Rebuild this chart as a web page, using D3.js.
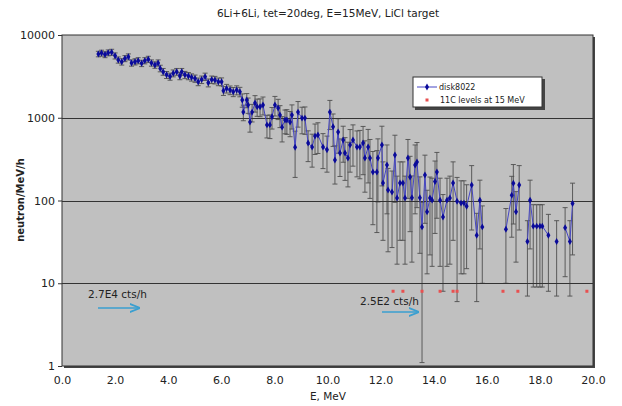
<!DOCTYPE html>
<html><head><meta charset="utf-8">
<script src="https://cdn.jsdelivr.net/npm/d3@7"></script>
<style>body{margin:0;background:#fff}svg{display:block}text{font-family:"DejaVu Sans",sans-serif;fill:#222}</style>
</head><body><svg id="c" width="622" height="406"></svg>
<script>
const energies=[1.37,1.49,1.62,1.74,1.87,2.00,2.12,2.25,2.37,2.50,2.62,2.75,2.87,3.00,3.12,3.25,3.37,3.50,3.62,3.70,3.81,3.94,4.07,4.19,4.32,4.44,4.51,4.63,4.76,4.88,5.01,5.13,5.26,5.39,5.51,5.64,5.76,5.89,6.01,6.08,6.20,6.33,6.45,6.58,6.70,6.79,6.83,6.96,7.01,7.08,7.16,7.27,7.35,7.46,7.57,7.72,7.83,7.91,8.02,8.14,8.21,8.29,8.40,8.47,8.59,8.66,8.78,8.89,9.04,9.15,9.27,9.42,9.53,9.64,9.83,9.98,10.09,10.21,10.28,10.40,10.47,10.59,10.66,10.77,10.85,10.96,11.11,11.22,11.34,11.41,11.53,11.60,11.71,11.86,11.90,12.05,12.09,12.24,12.28,12.43,12.54,12.62,12.73,12.84,12.92,13.03,13.11,13.18,13.30,13.37,13.48,13.56,13.67,13.75,13.86,13.94,14.05,14.12,14.24,14.35,14.50,14.61,14.73,14.88,15.03,15.14,15.24,15.43,15.62,15.74,15.83,16.72,16.94,17.00,17.10,17.22,17.53,17.63,17.75,17.88,18.00,18.09,18.32,18.63,18.95,19.13,19.23];
const counts=[5900,6050,5800,6100,6200,5600,5000,4750,5200,5450,4600,4750,4900,4550,4900,5100,4600,4350,4600,3950,3600,3300,3150,3450,3600,3200,3600,3300,3200,3080,2980,2730,2890,3140,2650,2890,2860,2730,2730,2120,2260,2160,2060,2160,2060,1640,1170,1640,1430,890,1170,1510,1360,1360,1430,820,820,1030,1430,1310,1080,770,940,940,890,1080,440,1170,990,990,495,443,600,620,443,410,1170,780,308,673,375,540,375,326,470,540,443,443,495,326,443,326,221,221,326,470,163,269,134,127,355,107,163,163,107,326,192,108,269,292,108,48,203,73,107,101,170,221,101,63,101,107,163,98,93,93,85,154,38,101,48,45,116,162,73,154,32,101,49,49,49,49,38,32,47,32,92];
const errors=[450,500,480,500,520,470,430,420,440,460,400,410,420,400,420,430,400,390,400,360,340,320,310,330,340,320,340,330,320,310,300,290,300,320,290,300,300,290,300,260,270,260,260,270,270,300,250,320,300,220,280,340,320,330,350,250,260,300,380,360,320,260,300,310,300,350,250,400,350,360,200,190,240,250,200,190,450,330,150,300,180,250,200,180,250,280,250,260,290,200,280,220,170,180,230,320,130,200,110,100,260,90,130,130,90,220,150,90,200,210,85,46.9,150,60,85,85,130,160,85,55,85,90,130,92,80,80,70,110,32,75,38,35,80,110,55,110,25,75,40,40,40,40,30,25,35,25,70];
const levelEnergies=[12.47,12.84,13.56,14.24,14.73,14.88,16.61,17.17,19.77];
const levelValue=8;
const xTicks=[0,2,4,6,8,10,12,14,16,18,20];
const yTicks=[1,10,100,1000,10000];
const gridValues=[10,100,1000];

const svg=d3.select("#c");
const L=62,R=593,T=35,B=366;
const x=d3.scaleLinear().domain([0,20]).range([L,R]);
const y=d3.scaleLog().domain([1,10000]).range([B,T]);

svg.append("rect").attr("x",L+2).attr("y",T+2).attr("width",R-L).attr("height",B-T).attr("fill","#444");
svg.append("rect").attr("x",L).attr("y",T).attr("width",R-L).attr("height",B-T).attr("fill","#c0c0c0").attr("stroke","#333").attr("stroke-width",1);

svg.selectAll(".grid").data(gridValues).join("line").attr("x1",L).attr("x2",R)
 .attr("y1",d=>Math.round(y(d))+0.5).attr("y2",d=>Math.round(y(d))+0.5).attr("stroke","#333").attr("stroke-width",1);

const yAxis=d3.axisLeft(y).tickValues(yTicks).tickFormat(d3.format("d")).tickSize(4).tickPadding(3);
const gy=svg.append("g").attr("transform",`translate(${L},0)`).call(yAxis);
gy.select(".domain").remove();
gy.selectAll("text").style("font-size","11px").attr("fill","#222");
gy.selectAll("line").attr("stroke","#333");
const xAxis=d3.axisBottom(x).tickValues(xTicks).tickFormat(d3.format(".1f")).tickSize(0).tickPadding(10);
const gx=svg.append("g").attr("transform",`translate(0,${B})`).call(xAxis);
gx.select(".domain").remove();
gx.selectAll("text").style("font-size","11px").attr("fill","#222");

svg.append("text").attr("x",328).attr("y",17).attr("text-anchor","middle").style("font-size","10.5px").text("6Li+6Li, tet=20deg, E=15MeV, LiCl target");
svg.append("text").attr("x",328).attr("y",400).attr("text-anchor","middle").style("font-size","10.5px").text("E, MeV");
svg.append("text").attr("transform","translate(24,200) rotate(-90)").attr("text-anchor","middle").style("font-size","10px").style("font-weight","bold").text("neutron/MeV/h");

const pts=energies.map((e,i)=>({e,v:counts[i],er:errors[i]}));
const eb=svg.append("g").attr("stroke","#333").attr("stroke-width",0.9).attr("opacity",0.8);
pts.forEach(p=>{
  const lo=Math.max(p.v-p.er,1.0), hi=p.v+p.er;
  const xx=x(p.e);
  eb.append("line").attr("x1",xx).attr("x2",xx).attr("y1",y(lo)).attr("y2",y(hi));
  eb.append("line").attr("x1",xx-2.5).attr("x2",xx+2.5).attr("y1",y(hi)).attr("y2",y(hi));
  if(p.v-p.er>1) eb.append("line").attr("x1",xx-2.5).attr("x2",xx+2.5).attr("y1",y(lo)).attr("y2",y(lo));
});
const segs=[];let cur=[];
pts.forEach((p,i)=>{ if(i>0 && p.e-pts[i-1].e>0.25){segs.push(cur);cur=[];} cur.push(p);});
segs.push(cur);
const line=d3.line().x(d=>x(d.e)).y(d=>y(d.v));
svg.append("g").selectAll("path").data(segs.filter(s=>s.length>1)).join("path").attr("d",line)
 .attr("fill","none").attr("stroke","#4646c4").attr("stroke-width",1);
svg.append("g").selectAll("path").data(pts).join("path")
 .attr("d",d3.symbol(d3.symbolDiamond,14)).attr("transform",d=>`translate(${x(d.e)},${y(d.v)})`).attr("fill","#0a0a9a");

svg.append("g").selectAll("rect").data(levelEnergies).join("rect")
 .attr("x",d=>x(d)-1.5).attr("y",y(levelValue)-1.5).attr("width",3).attr("height",3).attr("fill","#e85050");

const arrowC="#3a9fd0";
svg.append("defs").append("marker").attr("id","ah").attr("viewBox","0 0 10 10").attr("refX",9).attr("refY",5)
 .attr("markerWidth",7).attr("markerHeight",7).attr("orient","auto").append("path").attr("d","M0,1 L10,5 L0,9").attr("fill","none").attr("stroke",arrowC).attr("stroke-width",1.6);
svg.append("text").attr("x",88).attr("y",298).style("font-size","10.5px").text("2.7E4 cts/h");
svg.append("line").attr("x1",98).attr("x2",139).attr("y1",308).attr("y2",308).attr("stroke",arrowC).attr("stroke-width",1.5).attr("marker-end","url(#ah)");
svg.append("text").attr("x",360).attr("y",305).style("font-size","10.5px").text("2.5E2 cts/h");
svg.append("line").attr("x1",382).attr("x2",418).attr("y1",312).attr("y2",312).attr("stroke",arrowC).attr("stroke-width",1.5).attr("marker-end","url(#ah)");

const lg=svg.append("g");
lg.append("rect").attr("x",415).attr("y",79).attr("width",130).attr("height",31).attr("fill","#444");
lg.append("rect").attr("x",413).attr("y",77).attr("width",129).attr("height",30).attr("fill","#fff").attr("stroke","#333").attr("stroke-width",1);
lg.append("line").attr("x1",417).attr("x2",437).attr("y1",87).attr("y2",87).attr("stroke","#4646c4").attr("stroke-width",1);
lg.append("path").attr("d",d3.symbol(d3.symbolDiamond,14)).attr("transform","translate(427,87)").attr("fill","#0a0a9a");
lg.append("text").attr("x",439).attr("y",90).style("font-size","8px").text("disk8022");
lg.append("rect").attr("x",425.5).attr("y",98.5).attr("width",3).attr("height",3).attr("fill","#e85050");
lg.append("text").attr("x",440).attr("y",103).style("font-size","8px").text("11C levels at 15 MeV");
</script></body></html>
